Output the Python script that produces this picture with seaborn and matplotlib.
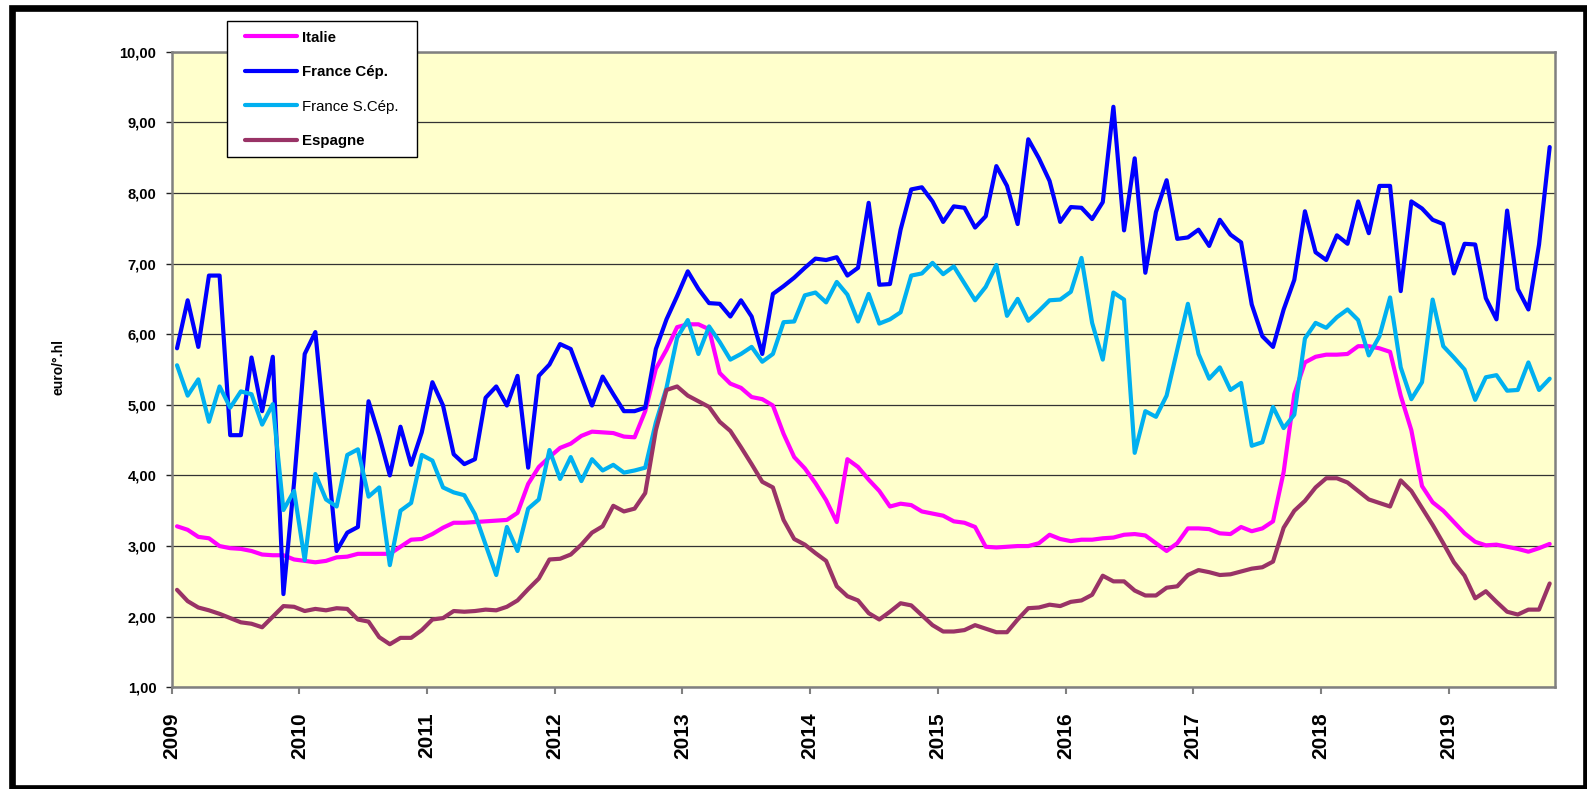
import numpy as np
import pandas as pd
import matplotlib
matplotlib.use("Agg")
import matplotlib.pyplot as plt
from matplotlib.patches import Rectangle
import seaborn as sns

# Monthly prices, January 2009 to October 2019 (euro per degree-hectolitre)
italie = [
    3.28, 3.23, 3.13, 3.11, 3.00, 2.97, 2.96, 2.93, 2.88, 2.87, 2.87, 2.81,
    2.79, 2.77, 2.79, 2.84, 2.85, 2.89, 2.89, 2.89, 2.89, 2.99, 3.09, 3.10,
    3.17, 3.26, 3.33, 3.33, 3.34, 3.35, 3.36, 3.37, 3.47, 3.88, 4.12, 4.26,
    4.39, 4.45, 4.56, 4.62, 4.61, 4.60, 4.55, 4.54, 4.91, 5.51, 5.78, 6.10,
    6.14, 6.14, 6.07, 5.45, 5.30, 5.24, 5.11, 5.08, 4.99, 4.59, 4.26, 4.10,
    3.89, 3.65, 3.34, 4.23, 4.12, 3.94, 3.78, 3.56, 3.60, 3.58, 3.49, 3.46,
    3.43, 3.35, 3.33, 3.27, 2.99, 2.98, 2.99, 3.00, 3.00, 3.04, 3.16, 3.10,
    3.07, 3.09, 3.09, 3.11, 3.12, 3.16, 3.17, 3.15, 3.04, 2.93, 3.04, 3.25,
    3.25, 3.24, 3.18, 3.17, 3.27, 3.21, 3.25, 3.35, 4.05, 5.15, 5.60, 5.68,
    5.71, 5.71, 5.72, 5.83, 5.83, 5.80, 5.75, 5.13, 4.64, 3.85, 3.62, 3.50,
    3.34, 3.18, 3.06, 3.01, 3.02, 2.99, 2.96, 2.92, 2.97, 3.03,
]
france_cep = [
    5.80, 6.48, 5.82, 6.83, 6.83, 4.57, 4.57, 5.67, 4.91, 5.68, 2.32, 3.90,
    5.72, 6.03, 4.48, 2.93, 3.19, 3.27, 5.05, 4.56, 4.00, 4.69, 4.15, 4.61,
    5.32, 4.99, 4.30, 4.16, 4.23, 5.10, 5.26, 4.99, 5.41, 4.11, 5.41, 5.57,
    5.86, 5.79, 5.39, 4.99, 5.40, 5.15, 4.91, 4.91, 4.96, 5.79, 6.21, 6.54,
    6.89, 6.64, 6.44, 6.43, 6.25, 6.48, 6.25, 5.72, 6.57, 6.68, 6.80, 6.94,
    7.07, 7.05, 7.09, 6.83, 6.94, 7.86, 6.70, 6.71, 7.48, 8.05, 8.08, 7.88,
    7.59, 7.81, 7.79, 7.51, 7.67, 8.38, 8.10, 7.56, 8.76, 8.49, 8.17, 7.59,
    7.80, 7.79, 7.63, 7.87, 9.22, 7.47, 8.49, 6.87, 7.73, 8.18, 7.35, 7.37,
    7.48, 7.25, 7.62, 7.41, 7.30, 6.42, 5.97, 5.82, 6.35, 6.77, 7.74, 7.16,
    7.05, 7.40, 7.28, 7.88, 7.43, 8.10, 8.10, 6.61, 7.88, 7.78, 7.62, 7.56,
    6.86, 7.28, 7.27, 6.51, 6.21, 7.75, 6.64, 6.35, 7.27, 8.65,
]
france_scep = [
    5.56, 5.13, 5.36, 4.76, 5.26, 4.96, 5.19, 5.15, 4.72, 5.01, 3.51, 3.78,
    2.80, 4.02, 3.66, 3.56, 4.29, 4.37, 3.70, 3.83, 2.73, 3.50, 3.61, 4.29,
    4.21, 3.83, 3.76, 3.72, 3.45, 3.02, 2.59, 3.27, 2.93, 3.53, 3.66, 4.36,
    3.95, 4.26, 3.92, 4.23, 4.07, 4.15, 4.04, 4.07, 4.11, 4.75, 5.24, 5.95,
    6.20, 5.72, 6.11, 5.89, 5.64, 5.72, 5.82, 5.61, 5.72, 6.17, 6.18, 6.55,
    6.59, 6.45, 6.74, 6.56, 6.18, 6.57, 6.15, 6.21, 6.31, 6.83, 6.86, 7.01,
    6.85, 6.96, 6.72, 6.48, 6.67, 6.98, 6.26, 6.50, 6.19, 6.33, 6.48, 6.49,
    6.60, 7.08, 6.16, 5.64, 6.59, 6.49, 4.32, 4.91, 4.83, 5.13, 5.78, 6.43,
    5.72, 5.37, 5.53, 5.21, 5.31, 4.42, 4.47, 4.97, 4.67, 4.86, 5.94, 6.16,
    6.09, 6.24, 6.35, 6.20, 5.70, 5.97, 6.52, 5.53, 5.08, 5.32, 6.49, 5.83,
    5.67, 5.50, 5.07, 5.39, 5.42, 5.20, 5.21, 5.60, 5.21, 5.37,
]
espagne = [
    2.38, 2.22, 2.13, 2.09, 2.04, 1.98, 1.92, 1.90, 1.85, 2.00, 2.15, 2.14,
    2.08, 2.11, 2.09, 2.12, 2.11, 1.96, 1.93, 1.71, 1.61, 1.70, 1.70, 1.81,
    1.96, 1.98, 2.08, 2.07, 2.08, 2.10, 2.09, 2.14, 2.23, 2.39, 2.54, 2.81,
    2.82, 2.88, 3.02, 3.19, 3.28, 3.57, 3.49, 3.53, 3.75, 4.64, 5.21, 5.26,
    5.13, 5.05, 4.97, 4.76, 4.63, 4.40, 4.16, 3.91, 3.83, 3.37, 3.10, 3.02,
    2.90, 2.79, 2.43, 2.29, 2.23, 2.05, 1.96, 2.07, 2.19, 2.16, 2.02, 1.88,
    1.79, 1.79, 1.81, 1.88, 1.83, 1.78, 1.78, 1.96, 2.12, 2.13, 2.17, 2.15,
    2.21, 2.23, 2.31, 2.58, 2.50, 2.50, 2.37, 2.30, 2.30, 2.41, 2.43, 2.59,
    2.66, 2.63, 2.59, 2.60, 2.64, 2.68, 2.70, 2.78, 3.26, 3.50, 3.64, 3.83,
    3.96, 3.96, 3.90, 3.78, 3.66, 3.61, 3.56, 3.93, 3.78, 3.54, 3.30, 3.04,
    2.77, 2.58, 2.26, 2.36, 2.21, 2.07, 2.03, 2.10, 2.10, 2.47,
]

series_names = ["Italie", "France Cép.", "France S.Cép.", "Espagne"]
series_colors = ["#FF00FF", "#0000FF", "#00B0F0", "#993366"]
year_labels = [str(y) for y in range(2009, 2020)]
y_ticks = list(range(1, 11))

n_months = len(italie)
month_idx = np.arange(n_months)

df = pd.DataFrame({
    "mois": np.tile(month_idx, 4),
    "prix": np.concatenate([italie, france_cep, france_scep, espagne]),
    "serie": np.repeat(series_names, n_months),
})

W, H = 1587, 789
fig = plt.figure(figsize=(W / 100, H / 100), dpi=100)
fig.patch.set_facecolor("white")

# plot area in pixel coordinates
left, right, top, bottom = 171.7, 1555.0, 51.7, 687.3
ax = fig.add_axes([left / W, 1 - bottom / H, (right - left) / W, (bottom - top) / H])
ax.set_facecolor("#FFFFCC")

sns.lineplot(
    data=df, x="mois", y="prix", hue="serie", hue_order=series_names,
    palette=series_colors, linewidth=3.0, ax=ax, legend=True,
)
for line in ax.get_lines():
    line.set_solid_joinstyle("round")
    line.set_solid_capstyle("round")

# category axis: each month centred in its slot, ticks every 12 months
ax.set_xlim(-0.5, n_months - 0.5)
ax.set_xticks([-0.5 + 12 * k for k in range(len(year_labels))])
ax.set_xticklabels(year_labels, rotation=90, fontsize=15, fontweight="bold",
                   family="Liberation Sans")
ax.tick_params(axis="x", length=5, width=1.5, color="#808080", pad=13)

ax.set_ylim(1, 10)
ax.set_yticks(y_ticks)
ax.set_yticklabels([f"{v:.2f}".replace(".", ",") for v in y_ticks],
                   fontsize=10.5, fontweight="bold", family="Liberation Sans")
ax.tick_params(axis="y", length=4, width=1.0, color="#222222", pad=7)

ax.yaxis.grid(True, color="#333333", linewidth=0.9)
ax.xaxis.grid(False)
ax.set_axisbelow(True)
for s in ax.spines.values():
    s.set_color("#808080")
    s.set_linewidth(1.8)

ax.set_xlabel("")
ax.set_ylabel("")
fig.text(58.3 / W, 1 - 366.7 / H, "euro/°.hl", rotation=90, ha="center", va="center",
         fontsize=10, fontweight="bold", family="Liberation Sans")

# legend: white box drawn separately, entries placed inside it
fig.patches.append(Rectangle((226.7 / W, 1 - 157.3 / H), (417.3 - 226.7) / W,
                             (157.3 - 20.7) / H, transform=fig.transFigure,
                             facecolor="white", edgecolor="black", linewidth=1.0,
                             zorder=5))
handles, labels = ax.get_legend_handles_labels()
ax.get_legend().remove()
leg = fig.legend(
    handles, labels, loc="upper left",
    bbox_to_anchor=(245 / W, 1 - 30.5 / H), bbox_transform=fig.transFigure,
    frameon=False, prop={"family": "Liberation Sans", "size": 10.8},
    handlelength=3.45, handletextpad=0.33, labelspacing=1.37,
    borderpad=0.0, borderaxespad=0.0,
)
leg.set_zorder(6)
for txt in leg.get_texts():
    txt.set_fontweight("normal" if txt.get_text() == "France S.Cép." else "bold")
for lh in leg.get_lines():
    lh.set_linewidth(3.0)

# outer frame around the whole chart
fig.patches.append(Rectangle((11.7 / W, 1 - 788 / H), (1586 - 11.7) / W, (788 - 8.3) / H,
                             transform=fig.transFigure, fill=False,
                             edgecolor="black", linewidth=4.8))

fig.savefig("out.png", dpi=100)
